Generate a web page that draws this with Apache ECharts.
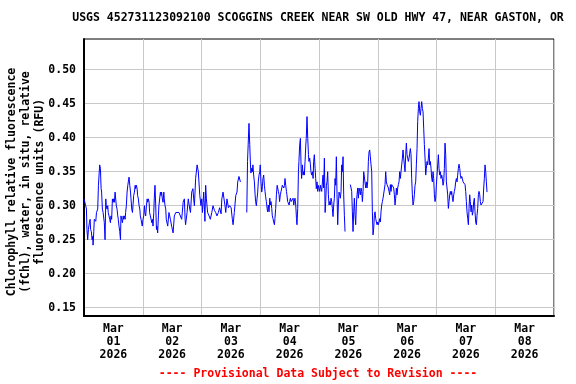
<!DOCTYPE html>
<html>
<head>
<meta charset="utf-8">
<script src="https://cdn.jsdelivr.net/npm/echarts@6/dist/echarts.min.js"></script>
<style>
html,body{margin:0;padding:0;background:#fff;}
#chart{width:576px;height:384px;}
</style>
</head>
<body>
<div id="chart"></div>
<script>
// ---- DATA ----
const titleText = "USGS 452731123092100 SCOGGINS CREEK NEAR SW OLD HWY 47, NEAR GASTON, OR";
const yAxisTitle = ["Chlorophyll relative fluorescence", "(fChl), water, in situ, relative", "fluorescence units (RFU)"];
const footerText = "---- Provisional Data Subject to Revision ----";
const dayLabels = ["Mar\n01\n2026","Mar\n02\n2026","Mar\n03\n2026","Mar\n04\n2026","Mar\n05\n2026","Mar\n06\n2026","Mar\n07\n2026","Mar\n08\n2026"];
const yTicks = [0.15, 0.20, 0.25, 0.30, 0.35, 0.40, 0.45, 0.50];
const yMin = 0.1378, yMax = 0.5451;
const hoursSpan = 192; // Mar 01 00:00 to Mar 09 00:00

// hours since Mar 01 00:00
const times = [
0,0.42,0.7,1.0,1.2,1.5,1.8,2.2,2.5,2.7,3.0,3.3,3.6,3.7,4.0,4.2,4.5,4.8,5.1,5.3,5.6,5.9,6.1,6.4,6.7,7.0,7.2,7.5,7.8,8.0,8.3,8.6,8.9,9.1,9.4,9.7,9.9,10.2,10.5,10.8,11.0,11.3,11.6,11.9,12.1,12.4,12.7,13.0,13.2,13.5,13.8,14.0,14.3,14.6,14.9,15.1,15.4,15.7,16.0,16.2,16.5,16.8,17.0,17.3,17.6,17.9,18.1,18.4,18.7,19.0,19.2,19.5,19.8,20.0,20.3,20.6,20.9,21.1,21.4,21.7,21.9,22.2,22.5,22.8,23.0,23.3,23.6,23.8,24.1,24.4,24.7,24.9,25.2,25.5,25.8,26.0,26.3,26.6,26.8,27.1,27.4,27.7,27.9,28.2,28.5,28.7,29.0,29.3,29.6,29.8,30.1,30.4,30.6,30.9,31.2,31.5,31.7,32.0,32.3,32.6,32.8,33.1,33.4,
33.6,34.2,34.7,35.3,35.8,36.4,36.9,37.5,38.0,38.8,39.4,39.9,40.5,41.0,41.3,41.5,42.1,42.6,43.2,43.5,44.0,44.5,44.8,45.1,45.6,46.2,46.7,47.3,47.8,48.1,48.4,48.9,49.2,49.4,49.7,50.0,50.5,51.1,51.6,52.2,52.7,53.3,53.8,54.3,54.9,55.4,56.0,56.3,56.8,57.3,57.6,57.9,58.4,59.0,59.5,60.1,60.6,60.9,61.4,62.0,62.5,62.8,63.3,63.9,65.0,
66.5,66.8,67.4,67.7,68.0,68.2,68.5,68.8,69.0,69.3,69.6,69.9,70.1,70.4,70.7,70.96,71.2,71.5,71.8,72.0,72.3,72.6,72.9,73.1,73.4,73.7,73.95,74.2,74.5,74.8,75.0,75.3,75.6,75.9,76.1,76.4,76.7,76.9,77.2,77.5,77.8,78.0,78.3,78.6,78.9,79.1,79.4,79.7,79.9,80.2,80.5,80.8,81.0,81.3,81.6,81.9,82.1,82.4,82.7,82.9,83.2,83.5,83.8,84.0,84.3,84.6,84.85,85.1,85.4,85.7,85.9,86.2,86.5,86.8,87.0,87.3,87.6,87.8,88.1,88.4,88.7,88.9,89.2,89.5,89.75,90.0,90.3,90.6,90.8,91.1,91.4,91.7,91.9,92.2,92.5,92.7,93.0,93.3,93.6,93.8,94.1,94.4,94.65,94.9,95.2,95.5,95.7,96.0,96.3,96.6,96.8,97.1,97.4,97.65,97.9,98.2,98.5,
98.74,99.01,99.28,99.55,99.83,100.10,100.37,100.64,100.92,101.19,101.46,101.73,102.01,102.28,102.55,102.82,103.09,103.37,103.64,103.91,104.18,104.46,104.73,105.00,105.27,105.55,105.82,106.09,106.36,106.63,107.7,
108.81,109.09,109.36,109.63,109.90,110.18,110.45,110.72,110.99,111.26,111.54,111.81,112.08,112.35,112.63,112.90,113.17,113.44,113.72,113.99,114.26,114.53,114.81,115.08,115.35,115.62,115.89,116.17,116.44,116.71,116.98,117.26,117.53,117.80,118.07,118.35,118.62,118.89,119.16,119.44,119.71,119.98,120.25,120.52,120.80,121.07,121.34,121.61,121.89,122.16,122.43,122.70,122.98,123.25,123.52,123.79,124.06,124.34,124.61,124.88,125.15,125.43,125.70,125.97,126.24,126.52,126.79,127.06,127.33,127.61,127.88,128.15,128.42,128.69,128.97,129.24,129.51,129.78,130.06,130.33,130.60,
130.87,131.14,131.42,131.69,131.96,132.23,132.51,132.78,133.05,133.32,133.60,133.87,134.14,134.41,134.69,134.96,135.23,135.50,135.77,136.05,136.32,136.59,136.86,137.14,137.41,137.68,137.95,138.23,138.50,138.77,139.04,139.32,139.59,139.86,140.13,140.40,140.68,140.95,141.22,141.49,141.77,142.04,142.31,142.58,142.86,143.13,143.40,143.67,143.94,144.22,144.49,144.76,145.03,145.31,145.58,145.85,146.12,146.40,146.67,146.94,147.21,147.48,147.76,148.03,148.30,148.57,148.85,149.12,149.39,149.66,149.94,150.21,150.48,150.75,151.03,151.30,151.57,151.84,152.11,152.39,152.66,152.93,153.20,153.48,153.75,154.02,154.29,154.57,154.84,155.11,155.38,155.66,155.93,156.20,156.47,156.75,157.02,157.29,157.56,157.83,158.11,158.38,158.65,158.92,159.20,159.47,159.74,160.01,160.29,160.56,160.83,161.10,161.38,161.65,161.92,162.19,162.46,162.74,163.01,163.28,163.55,163.82,164.10,164.37,164.64
];
const values = [
0.31,0.31,0.30,0.295,0.265,0.25,0.265,0.275,0.28,0.265,0.262,0.25,0.255,0.242,0.262,0.28,0.28,0.277,0.29,0.29,0.295,0.33,0.33,0.36,0.355,0.325,0.32,0.295,0.29,0.29,0.275,0.25,0.31,0.30,0.295,0.30,0.29,0.285,0.28,0.275,0.285,0.28,0.31,0.305,0.31,0.305,0.32,0.321,0.30,0.295,0.285,0.28,0.27,0.262,0.25,0.285,0.28,0.275,0.285,0.28,0.285,0.28,0.29,0.30,0.32,0.33,0.335,0.342,0.33,0.32,0.31,0.295,0.29,0.30,0.315,0.32,0.33,0.325,0.33,0.325,0.315,0.31,0.30,0.295,0.285,0.28,0.28,0.27,0.28,0.285,0.30,0.29,0.285,0.30,0.31,0.305,0.31,0.305,0.29,0.285,0.28,0.275,0.28,0.27,0.29,0.31,0.33,0.30,0.265,0.27,0.26,0.285,0.30,0.30,0.32,0.315,0.32,0.31,0.305,0.32,0.31,0.30,0.295,
0.28,0.27,0.29,0.28,0.27,0.26,0.285,0.29,0.29,0.29,0.29,0.28,0.305,0.31,0.28,0.272,0.29,0.31,0.295,0.29,0.32,0.325,0.31,0.30,0.34,0.36,0.35,0.315,0.30,0.31,0.29,0.32,0.295,0.277,0.33,0.31,0.29,0.285,0.28,0.29,0.30,0.293,0.29,0.285,0.29,0.297,0.288,0.31,0.32,0.322,0.30,0.29,0.31,0.297,0.30,0.297,0.28,0.272,0.29,0.315,0.32,0.335,0.343,0.335,null,
0.29,0.365,0.421,0.39,0.36,0.348,0.355,0.35,0.36,0.345,0.335,0.316,0.306,0.30,0.311,0.32,0.335,0.345,0.35,0.36,0.335,0.32,0.328,0.34,0.345,0.33,0.321,0.313,0.306,0.296,0.291,0.301,0.291,0.311,0.301,0.306,0.296,0.286,0.281,0.276,0.272,0.281,0.296,0.316,0.33,0.33,0.321,0.316,0.306,0.316,0.321,0.326,0.33,0.331,0.326,0.33,0.34,0.33,0.321,0.316,0.306,0.306,0.301,0.306,0.311,0.306,0.308,0.306,0.311,0.301,0.306,0.311,0.301,0.281,0.272,0.296,0.35,0.365,0.389,0.399,0.355,0.34,0.36,0.345,0.35,0.345,0.365,0.389,0.399,0.431,0.399,0.375,0.365,0.37,0.36,0.35,0.345,0.35,0.34,0.365,0.375,0.355,0.34,0.325,0.335,0.321,0.33,0.326,0.321,0.33,0.326,0.321,0.335,0.345,0.326,0.37,0.29,
0.306,0.33,0.335,0.35,0.316,0.301,0.306,0.301,0.311,0.306,0.296,0.284,0.301,0.311,0.34,0.33,0.372,0.316,0.272,0.301,0.32,0.316,0.311,0.321,0.36,0.35,0.372,0.316,0.286,0.262,null,
0.331,0.326,0.321,0.291,0.262,0.291,0.311,0.286,0.272,0.301,0.316,0.326,0.311,0.326,0.321,0.316,0.326,0.321,0.306,0.321,0.35,0.35,0.35,0.326,0.335,0.326,0.335,0.365,0.379,0.382,0.372,0.36,0.35,0.291,0.257,0.267,0.286,0.291,0.281,0.276,0.272,0.276,0.272,0.276,0.281,0.276,0.291,0.301,0.306,0.311,0.311,0.311,0.331,0.35,0.335,0.331,0.331,0.326,0.321,0.316,0.331,0.321,0.331,0.331,0.331,0.326,0.316,0.301,0.311,0.326,0.316,0.326,0.331,0.335,0.35,0.34,0.35,0.36,0.37,0.382,0.37,
0.36,0.35,0.375,0.392,0.375,0.37,0.365,0.37,0.377,0.384,0.375,0.34,0.316,0.301,0.306,0.316,0.33,0.335,0.36,0.384,0.424,0.443,0.453,0.438,0.433,0.443,0.453,0.443,0.438,0.414,0.39,0.37,0.345,0.355,0.365,0.36,0.37,0.384,0.36,0.365,0.355,0.34,0.335,0.35,0.34,0.316,0.306,0.311,0.33,0.345,0.36,0.375,0.355,0.345,0.35,0.34,0.345,0.34,0.33,0.335,0.355,0.392,0.375,0.335,0.326,0.316,0.296,0.306,0.316,0.321,0.316,0.321,0.311,0.306,0.316,0.321,0.326,0.335,0.34,0.335,0.345,0.355,0.361,0.355,0.345,0.34,0.343,0.34,0.335,0.333,0.335,0.331,0.321,0.306,0.291,0.281,0.272,0.296,0.316,0.306,0.291,0.301,0.286,0.291,0.306,0.311,0.291,0.276,0.272,0.286,0.296,0.316,0.321,0.316,0.306,0.301,0.301,0.301,0.306,0.326,0.34,0.36,0.35,0.335,0.32
];

// ---- CHART ----
const FONT = '"DejaVu Sans Mono", "Liberation Mono", monospace';
const seriesData = times.map((t, i) => [t, values[i]]);
const chart = echarts.init(document.getElementById('chart'), null, {renderer: 'canvas'});
chart.setOption({
  animation: false,
  backgroundColor: '#ffffff',
  grid: {left: 84, right: 22, top: 39, bottom: 68, show: true, borderColor: '#000', borderWidth: 1, backgroundColor: 'transparent'},
  xAxis: [
    {
      type: 'category', data: dayLabels, boundaryGap: true,
      axisLine: {show: true, lineStyle: {color: '#000', width: 2}},
      axisTick: {show: false},
      splitLine: {show: true, interval: 0, lineStyle: {color: '#c8c8c8', width: 1}},
      axisLabel: {interval: 0, margin: 7, color: '#000', fontFamily: FONT, fontWeight: 'bold', fontSize: 11.5, lineHeight: 13}
    },
    {type: 'value', min: 0, max: hoursSpan, show: false}
  ],
  yAxis: {
    type: 'value', min: yMin, max: yMax,
    axisLine: {show: true, lineStyle: {color: '#000', width: 2}},
    axisTick: {show: false, customValues: yTicks},
    splitLine: {show: true, lineStyle: {color: '#c8c8c8', width: 1}},
    axisLabel: {customValues: yTicks, margin: 8, color: '#000', fontFamily: FONT, fontWeight: 'bold', fontSize: 11.5, formatter: v => v.toFixed(2)}
  },
  series: [{
    type: 'line', xAxisIndex: 1, data: seriesData, showSymbol: false, connectNulls: false,
    lineStyle: {color: '#0000ff', width: 1}, itemStyle: {color: '#0000ff'}
  }],
  graphic: [
    {type: 'text', x: 318, y: 18, style: {text: titleText, fill: '#000', font: 'bold 11.5px ' + FONT, align: 'center', verticalAlign: 'middle'}},
    {type: 'text', x: 26, y: 182, rotation: Math.PI / 2, style: {text: yAxisTitle.join('\n'), fill: '#000', font: 'bold 11.5px ' + FONT, align: 'center', verticalAlign: 'middle', lineHeight: 14}},
    {type: 'text', x: 318, y: 374, style: {text: footerText, fill: '#ff0000', font: 'bold 11.5px ' + FONT, align: 'center', verticalAlign: 'middle'}}
  ]
});
</script>
</body>
</html>
